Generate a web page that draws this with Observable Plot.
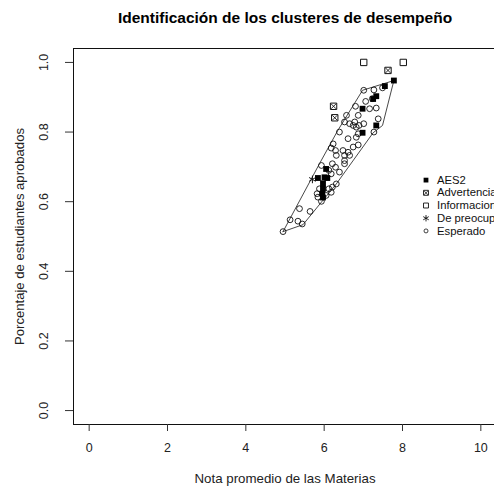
<!DOCTYPE html>
<html>
<head>
<meta charset="utf-8">
<script src="https://cdn.jsdelivr.net/npm/d3@7"></script>
<script src="https://cdn.jsdelivr.net/npm/@observablehq/plot@0.6"></script>
<style>
  html, body { margin: 0; padding: 0; background: #fff; }
</style>
</head>
<body>
<div id="chart"></div>
<script>
// ---- Data ----
const esperadoX = [7.01,7.27,7.49,7.06,7.23,7.16,7.33,6.80,6.87,6.57,6.52,6.65,6.78,6.89,7.01,6.82,6.74,7.38,7.27,6.39,6.87,6.82,6.61,6.87,6.74,6.23,6.18,6.29,6.48,6.61,6.52,6.31,6.65,6.52,6.52,6.21,6.29,5.93,6.12,6.39,6.18,6.31,6.21,6.12,5.88,5.82,5.84,6.05,5.93,6.18,5.37,5.64,5.13,5.33,5.44,4.95];
const esperadoY = [0.920,0.921,0.927,0.888,0.896,0.867,0.869,0.874,0.848,0.848,0.829,0.824,0.829,0.819,0.824,0.814,0.819,0.838,0.800,0.800,0.795,0.785,0.781,0.763,0.757,0.766,0.754,0.747,0.747,0.742,0.733,0.733,0.733,0.718,0.709,0.709,0.699,0.704,0.690,0.685,0.680,0.651,0.642,0.637,0.637,0.623,0.613,0.618,0.601,0.627,0.580,0.572,0.548,0.544,0.536,0.514];

const aes2X = [7.78,7.55,7.33,7.25,6.98,7.33,6.98,6.05,6.01,5.84,6.08,5.97,5.97,5.95,5.97];
const aes2Y = [0.948,0.932,0.903,0.895,0.867,0.819,0.798,0.694,0.670,0.668,0.668,0.653,0.637,0.623,0.612];

const advertenciaX = [7.63,6.24,6.27];
const advertenciaY = [0.977,0.874,0.841];

const informacionX = [7.01,8.02];
const informacionY = [1.0,1.0];

const preocupacionX = [5.70];
const preocupacionY = [0.664];

// Cluster outline (hull vertices)
const hullX = [4.95,5.46,6.31,7.25,7.49,7.78,6.98,6.35,5.88];
const hullY = [0.514,0.534,0.651,0.798,0.819,0.948,0.920,0.805,0.709];

const xTicks = [0,2,4,6,8,10];
const yTicks = [0,0.2,0.4,0.6,0.8,1.0];

const legendLabels = ["AES2","Advertencia","Informacion","De preocupacion","Esperado"];

const titleText = "Identificación de los clusteres de desempeño";
const xTitle = "Nota promedio de las Materias";
const yTitle = "Porcentaje de estudiantes aprobados";

// ---- Build tables ----
const zip = (xs, ys) => xs.map((x, i) => ({x, y: ys[i]}));
const esperado = zip(esperadoX, esperadoY);
const aes2 = zip(aes2X, aes2Y);
const advertencia = zip(advertenciaX, advertenciaY);
const informacion = zip(informacionX, informacionY);
const preocupacion = zip(preocupacionX, preocupacionY);
const hull = zip(hullX, hullY);
const hullClosed = [...hull, hull[0]];

// legend placement (data coordinates, like R's legend(x, y))
const legendX = 8.6;
const legendTop = 0.662;
const legendStep = 0.0365;
const legend = legendLabels.map((label, i) => ({label, x: legendX, y: legendTop - i * legendStep}));

const ink = "#111";
const font = "'Liberation Sans', Arial, Helvetica, sans-serif";

const chart = Plot.plot({
  width: 494,
  height: 491,
  marginLeft: 73,
  marginRight: -2,
  marginTop: 48,
  marginBottom: 67,
  style: {fontFamily: font, fontSize: "12px", background: "#fff", color: "#222"},
  x: {domain: [-0.4, 10.4]},
  y: {domain: [-0.04, 1.04]},
  marks: [
    Plot.frame({stroke: ink, strokeWidth: 1}),
    Plot.axisX({ticks: xTicks, tickSize: 7, tickPadding: 12, fontSize: 12.5, label: null, tickFormat: d => String(d), stroke: "#333"}),
    Plot.axisY({ticks: yTicks, tickSize: 8, tickFormat: () => "", label: null, stroke: "#333"}),
    Plot.text(yTicks, {y: d => d, frameAnchor: "left", text: d => d.toFixed(1), rotate: -90, dx: -30, lineAnchor: "middle", textAnchor: "middle", fontSize: 12.5, fill: "#222"}),
    // titles
    Plot.text([titleText], {frameAnchor: "top", dy: -30, lineAnchor: "middle", fontWeight: "bold", fontSize: 15.5, fill: "#000"}),
    Plot.text([xTitle], {frameAnchor: "bottom", dy: 54, lineAnchor: "middle", textAnchor: "middle", fontSize: 13.3, fill: "#222"}),
    Plot.text([yTitle], {frameAnchor: "left", dx: -54, rotate: -90, lineAnchor: "middle", textAnchor: "middle", fontSize: 13.1, fill: "#222"}),
    // hull outline
    Plot.line(hullClosed, {x: "x", y: "y", stroke: "#333", strokeWidth: 0.9}),
    // points
    Plot.dot(esperado, {x: "x", y: "y", symbol: "circle", r: 2.9, stroke: ink, strokeWidth: 0.9, fill: "none"}),
    Plot.dot(aes2, {x: "x", y: "y", symbol: "square", r: 3.3, fill: "#000", stroke: "none"}),
    Plot.dot(advertencia, {x: "x", y: "y", symbol: "square", r: 3.6, stroke: ink, strokeWidth: 1, fill: "none"}),
    Plot.dot(advertencia, {x: "x", y: "y", symbol: "times", r: 2.4, stroke: ink, strokeWidth: 0.9}),
    Plot.dot(informacion, {x: "x", y: "y", symbol: "square", r: 3.6, stroke: ink, strokeWidth: 1, fill: "none"}),
    Plot.dot(preocupacion, {x: "x", y: "y", symbol: "asterisk", r: 3.6, stroke: ink, strokeWidth: 1}),
    // legend
    Plot.dot([legend[0]], {x: "x", y: "y", symbol: "square", r: 2.7, fill: "#000", stroke: "none"}),
    Plot.dot([legend[1]], {x: "x", y: "y", symbol: "square", r: 2.8, stroke: ink, strokeWidth: 0.9, fill: "none"}),
    Plot.dot([legend[1]], {x: "x", y: "y", symbol: "times", r: 1.9, stroke: ink, strokeWidth: 0.8}),
    Plot.dot([legend[2]], {x: "x", y: "y", symbol: "square", r: 2.8, stroke: ink, strokeWidth: 0.9, fill: "none"}),
    Plot.dot([legend[3]], {x: "x", y: "y", symbol: "asterisk", r: 3, stroke: ink, strokeWidth: 0.9}),
    Plot.dot([legend[4]], {x: "x", y: "y", symbol: "circle", r: 2, stroke: ink, strokeWidth: 0.8, fill: "none"}),
    Plot.text(legend, {x: "x", y: "y", text: "label", dx: 11, textAnchor: "start", fontSize: 11.3, fill: "#111"})
  ]
});

document.getElementById("chart").appendChild(chart);
</script>
</body>
</html>
